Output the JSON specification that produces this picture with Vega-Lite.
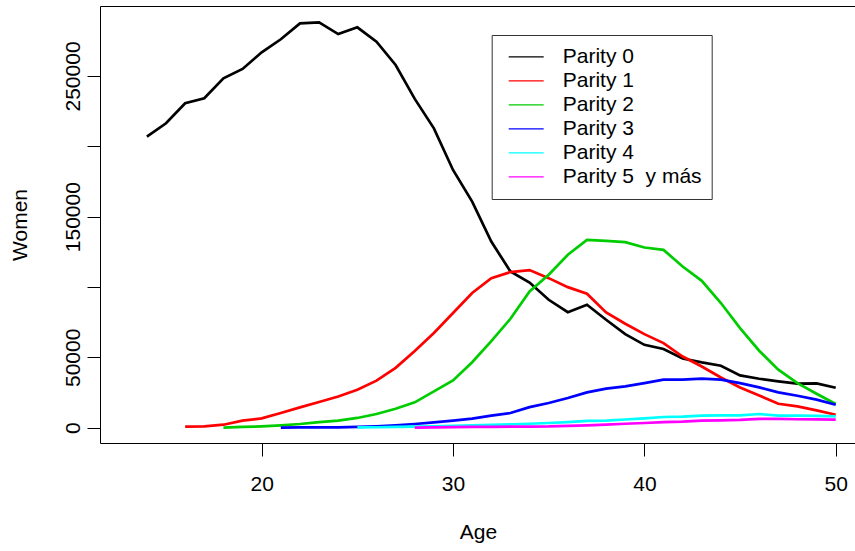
{
  "$schema": "https://vega.github.io/schema/vega-lite/v6.json",
  "width": 756,
  "height": 437,
  "autosize": {"type": "none"},
  "padding": {"left": 100, "top": 6, "right": 0, "bottom": 108},
  "background": "white",
  "config": {
    "font": "Liberation Sans",
    "view": {"stroke": "black", "strokeWidth": 1},
    "axis": {"grid": false, "domain": false, "tickColor": "black", "tickWidth": 1, "tickSize": 13, "labelColor": "black", "titleColor": "black", "labelFont": "Liberation Sans", "titleFont": "Liberation Sans", "labelFontSize": 21, "titleFontSize": 21, "titleFontWeight": "normal"}
  },
  "datasets": {
    "births": [
      {"age": 14, "parity": "Parity 0", "women": 206900},
      {"age": 15, "parity": "Parity 0", "women": 216400},
      {"age": 16, "parity": "Parity 0", "women": 230600},
      {"age": 17, "parity": "Parity 0", "women": 234200},
      {"age": 18, "parity": "Parity 0", "women": 248400},
      {"age": 19, "parity": "Parity 0", "women": 255000},
      {"age": 20, "parity": "Parity 0", "women": 266800},
      {"age": 21, "parity": "Parity 0", "women": 276100},
      {"age": 22, "parity": "Parity 0", "women": 287400},
      {"age": 23, "parity": "Parity 0", "women": 288100},
      {"age": 24, "parity": "Parity 0", "women": 279800},
      {"age": 25, "parity": "Parity 0", "women": 284600},
      {"age": 26, "parity": "Parity 0", "women": 274400},
      {"age": 27, "parity": "Parity 0", "women": 257800},
      {"age": 28, "parity": "Parity 0", "women": 233700},
      {"age": 29, "parity": "Parity 0", "women": 212800},
      {"age": 30, "parity": "Parity 0", "women": 183200},
      {"age": 31, "parity": "Parity 0", "women": 160700},
      {"age": 32, "parity": "Parity 0", "women": 132300},
      {"age": 33, "parity": "Parity 0", "women": 111000},
      {"age": 34, "parity": "Parity 0", "women": 103200},
      {"age": 35, "parity": "Parity 0", "women": 90900},
      {"age": 36, "parity": "Parity 0", "women": 82100},
      {"age": 37, "parity": "Parity 0", "women": 87400},
      {"age": 38, "parity": "Parity 0", "women": 76700},
      {"age": 39, "parity": "Parity 0", "women": 66500},
      {"age": 40, "parity": "Parity 0", "women": 58900},
      {"age": 41, "parity": "Parity 0", "women": 55900},
      {"age": 42, "parity": "Parity 0", "women": 49200},
      {"age": 43, "parity": "Parity 0", "women": 46400},
      {"age": 44, "parity": "Parity 0", "women": 44000},
      {"age": 45, "parity": "Parity 0", "women": 37200},
      {"age": 46, "parity": "Parity 0", "women": 34800},
      {"age": 47, "parity": "Parity 0", "women": 32900},
      {"age": 48, "parity": "Parity 0", "women": 31300},
      {"age": 49, "parity": "Parity 0", "women": 31500},
      {"age": 50, "parity": "Parity 0", "women": 28400},
      {"age": 16, "parity": "Parity 1", "women": 700},
      {"age": 17, "parity": "Parity 1", "women": 900},
      {"age": 18, "parity": "Parity 1", "women": 2100},
      {"age": 19, "parity": "Parity 1", "women": 5000},
      {"age": 20, "parity": "Parity 1", "women": 6600},
      {"age": 21, "parity": "Parity 1", "women": 10400},
      {"age": 22, "parity": "Parity 1", "women": 14400},
      {"age": 23, "parity": "Parity 1", "women": 18200},
      {"age": 24, "parity": "Parity 1", "women": 22200},
      {"age": 25, "parity": "Parity 1", "women": 27000},
      {"age": 26, "parity": "Parity 1", "women": 33400},
      {"age": 27, "parity": "Parity 1", "women": 42500},
      {"age": 28, "parity": "Parity 1", "women": 54500},
      {"age": 29, "parity": "Parity 1", "women": 67300},
      {"age": 30, "parity": "Parity 1", "women": 81500},
      {"age": 31, "parity": "Parity 1", "women": 95700},
      {"age": 32, "parity": "Parity 1", "women": 106300},
      {"age": 33, "parity": "Parity 1", "women": 110600},
      {"age": 34, "parity": "Parity 1", "women": 112000},
      {"age": 35, "parity": "Parity 1", "women": 106300},
      {"age": 36, "parity": "Parity 1", "women": 99900},
      {"age": 37, "parity": "Parity 1", "women": 95200},
      {"age": 38, "parity": "Parity 1", "women": 81900},
      {"age": 39, "parity": "Parity 1", "women": 73900},
      {"age": 40, "parity": "Parity 1", "women": 66500},
      {"age": 41, "parity": "Parity 1", "women": 60100},
      {"age": 42, "parity": "Parity 1", "women": 50600},
      {"age": 43, "parity": "Parity 1", "women": 43500},
      {"age": 44, "parity": "Parity 1", "women": 35700},
      {"age": 45, "parity": "Parity 1", "women": 28600},
      {"age": 46, "parity": "Parity 1", "women": 22900},
      {"age": 47, "parity": "Parity 1", "women": 17000},
      {"age": 48, "parity": "Parity 1", "women": 15100},
      {"age": 49, "parity": "Parity 1", "women": 12300},
      {"age": 50, "parity": "Parity 1", "women": 9200},
      {"age": 18, "parity": "Parity 2", "women": 0},
      {"age": 19, "parity": "Parity 2", "women": 500},
      {"age": 20, "parity": "Parity 2", "women": 900},
      {"age": 21, "parity": "Parity 2", "women": 1600},
      {"age": 22, "parity": "Parity 2", "women": 2600},
      {"age": 23, "parity": "Parity 2", "women": 4000},
      {"age": 24, "parity": "Parity 2", "women": 5000},
      {"age": 25, "parity": "Parity 2", "women": 6900},
      {"age": 26, "parity": "Parity 2", "women": 9700},
      {"age": 27, "parity": "Parity 2", "women": 13500},
      {"age": 28, "parity": "Parity 2", "women": 18000},
      {"age": 29, "parity": "Parity 2", "women": 25800},
      {"age": 30, "parity": "Parity 2", "women": 33600},
      {"age": 31, "parity": "Parity 2", "women": 46500},
      {"age": 32, "parity": "Parity 2", "women": 61500},
      {"age": 33, "parity": "Parity 2", "women": 77400},
      {"age": 34, "parity": "Parity 2", "women": 96800},
      {"age": 35, "parity": "Parity 2", "women": 108700},
      {"age": 36, "parity": "Parity 2", "women": 122900},
      {"age": 37, "parity": "Parity 2", "women": 133500},
      {"age": 38, "parity": "Parity 2", "women": 132800},
      {"age": 39, "parity": "Parity 2", "women": 131900},
      {"age": 40, "parity": "Parity 2", "women": 128100},
      {"age": 41, "parity": "Parity 2", "women": 126400},
      {"age": 42, "parity": "Parity 2", "women": 114600},
      {"age": 43, "parity": "Parity 2", "women": 104400},
      {"age": 44, "parity": "Parity 2", "women": 88600},
      {"age": 45, "parity": "Parity 2", "women": 70800},
      {"age": 46, "parity": "Parity 2", "women": 54700},
      {"age": 47, "parity": "Parity 2", "women": 41200},
      {"age": 48, "parity": "Parity 2", "women": 31700},
      {"age": 49, "parity": "Parity 2", "women": 24100},
      {"age": 50, "parity": "Parity 2", "women": 16800},
      {"age": 21, "parity": "Parity 3", "women": 0},
      {"age": 22, "parity": "Parity 3", "women": 200},
      {"age": 23, "parity": "Parity 3", "women": 200},
      {"age": 24, "parity": "Parity 3", "women": 200},
      {"age": 25, "parity": "Parity 3", "women": 500},
      {"age": 26, "parity": "Parity 3", "women": 900},
      {"age": 27, "parity": "Parity 3", "women": 1600},
      {"age": 28, "parity": "Parity 3", "women": 2600},
      {"age": 29, "parity": "Parity 3", "women": 3800},
      {"age": 30, "parity": "Parity 3", "women": 5000},
      {"age": 31, "parity": "Parity 3", "women": 6400},
      {"age": 32, "parity": "Parity 3", "women": 8500},
      {"age": 33, "parity": "Parity 3", "women": 10400},
      {"age": 34, "parity": "Parity 3", "women": 14600},
      {"age": 35, "parity": "Parity 3", "women": 17500},
      {"age": 36, "parity": "Parity 3", "women": 21100},
      {"age": 37, "parity": "Parity 3", "women": 25100},
      {"age": 38, "parity": "Parity 3", "women": 27700},
      {"age": 39, "parity": "Parity 3", "women": 29300},
      {"age": 40, "parity": "Parity 3", "women": 31700},
      {"age": 41, "parity": "Parity 3", "women": 34100},
      {"age": 42, "parity": "Parity 3", "women": 34100},
      {"age": 43, "parity": "Parity 3", "women": 34800},
      {"age": 44, "parity": "Parity 3", "women": 34100},
      {"age": 45, "parity": "Parity 3", "women": 31700},
      {"age": 46, "parity": "Parity 3", "women": 28600},
      {"age": 47, "parity": "Parity 3", "women": 25100},
      {"age": 48, "parity": "Parity 3", "women": 22700},
      {"age": 49, "parity": "Parity 3", "women": 19900},
      {"age": 50, "parity": "Parity 3", "women": 16300},
      {"age": 25, "parity": "Parity 4", "women": 200},
      {"age": 26, "parity": "Parity 4", "women": 300},
      {"age": 27, "parity": "Parity 4", "women": 500},
      {"age": 28, "parity": "Parity 4", "women": 800},
      {"age": 29, "parity": "Parity 4", "women": 1000},
      {"age": 30, "parity": "Parity 4", "women": 1300},
      {"age": 31, "parity": "Parity 4", "women": 1600},
      {"age": 32, "parity": "Parity 4", "women": 2000},
      {"age": 33, "parity": "Parity 4", "women": 2400},
      {"age": 34, "parity": "Parity 4", "women": 2800},
      {"age": 35, "parity": "Parity 4", "women": 3300},
      {"age": 36, "parity": "Parity 4", "women": 4000},
      {"age": 37, "parity": "Parity 4", "women": 4800},
      {"age": 38, "parity": "Parity 4", "women": 5000},
      {"age": 39, "parity": "Parity 4", "women": 5800},
      {"age": 40, "parity": "Parity 4", "women": 6600},
      {"age": 41, "parity": "Parity 4", "women": 7600},
      {"age": 42, "parity": "Parity 4", "women": 7800},
      {"age": 43, "parity": "Parity 4", "women": 8600},
      {"age": 44, "parity": "Parity 4", "women": 8800},
      {"age": 45, "parity": "Parity 4", "women": 8800},
      {"age": 46, "parity": "Parity 4", "women": 9700},
      {"age": 47, "parity": "Parity 4", "women": 8600},
      {"age": 48, "parity": "Parity 4", "women": 8600},
      {"age": 49, "parity": "Parity 4", "women": 8400},
      {"age": 50, "parity": "Parity 4", "women": 8000},
      {"age": 28, "parity": "Parity 5  y más", "women": 0},
      {"age": 29, "parity": "Parity 5  y más", "women": 200},
      {"age": 30, "parity": "Parity 5  y más", "women": 400},
      {"age": 31, "parity": "Parity 5  y más", "women": 500},
      {"age": 32, "parity": "Parity 5  y más", "women": 600},
      {"age": 33, "parity": "Parity 5  y más", "women": 700},
      {"age": 34, "parity": "Parity 5  y más", "women": 800},
      {"age": 35, "parity": "Parity 5  y más", "women": 900},
      {"age": 36, "parity": "Parity 5  y más", "women": 1300},
      {"age": 37, "parity": "Parity 5  y más", "women": 1600},
      {"age": 38, "parity": "Parity 5  y más", "women": 2100},
      {"age": 39, "parity": "Parity 5  y más", "women": 2800},
      {"age": 40, "parity": "Parity 5  y más", "women": 3300},
      {"age": 41, "parity": "Parity 5  y más", "women": 4000},
      {"age": 42, "parity": "Parity 5  y más", "women": 4300},
      {"age": 43, "parity": "Parity 5  y más", "women": 5000},
      {"age": 44, "parity": "Parity 5  y más", "women": 5200},
      {"age": 45, "parity": "Parity 5  y más", "women": 5500},
      {"age": 46, "parity": "Parity 5  y más", "women": 6200},
      {"age": 47, "parity": "Parity 5  y más", "women": 6200},
      {"age": 48, "parity": "Parity 5  y más", "women": 6000},
      {"age": 49, "parity": "Parity 5  y más", "women": 5900},
      {"age": 50, "parity": "Parity 5  y más", "women": 5700}
    ]
  },
  "data": {"name": "births"},
  "mark": {"type": "line", "strokeWidth": 2.7, "clip": true},
  "encoding": {
    "x": {
      "field": "age", "type": "quantitative", "title": "Age",
      "scale": {"domain": [11.55, 51.06], "nice": false, "zero": false},
      "axis": {"values": [20, 30, 40, 50], "labelPadding": 17, "labelBaseline": "top", "titlePadding": 27}
    },
    "y": {
      "field": "women", "type": "quantitative", "title": "Women",
      "scale": {"domain": [-10900, 299750], "nice": false, "zero": false},
      "axis": {"values": [0, 50000, 100000, 150000, 200000, 250000], "format": "d", "labelExpr": "datum.value == 100000 || datum.value == 200000 ? '' : datum.label", "labelAngle": -90, "labelAlign": "center", "labelBaseline": "bottom", "labelPadding": 4, "titlePadding": 32}
    },
    "color": {
      "field": "parity", "type": "nominal",
      "scale": {"domain": ["Parity 0", "Parity 1", "Parity 2", "Parity 3", "Parity 4", "Parity 5  y más"], "range": ["#000000", "#FF0000", "#00CD00", "#0000FF", "#00FFFF", "#FF00FF"]},
      "legend": {"title": null, "orient": "none", "legendX": 391.7, "legendY": 29, "padding": 10, "symbolOffset": 6, "symbolType": "stroke", "symbolSize": 1225, "symbolStrokeWidth": 1.2, "clipHeight": 23.8, "rowPadding": 0, "labelOffset": 18, "labelFontSize": 21, "labelFont": "Liberation Sans", "labelColor": "black", "strokeColor": "#333333", "fillColor": "white", "labelLimit": 300, "labelExpr": "replace(datum.label, '  ', '\u00a0 ')"}
    }
  }
}
